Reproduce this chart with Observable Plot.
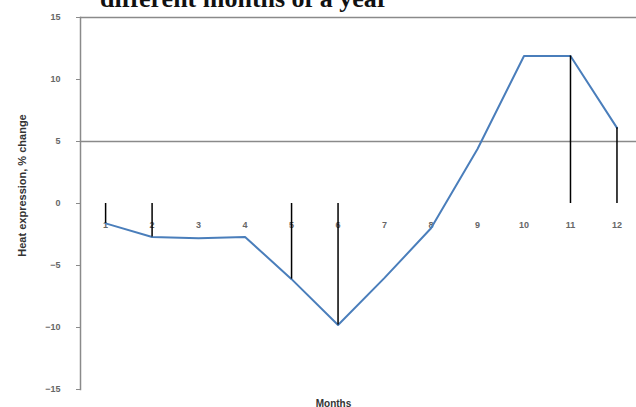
<!DOCTYPE html>
<html><head><meta charset="utf-8">
<script src="https://cdn.jsdelivr.net/npm/d3@7"></script>
<script src="https://cdn.jsdelivr.net/npm/@observablehq/plot@0.6"></script>
<style>
body{margin:0;background:#fff;overflow:hidden}
#wrap{position:relative;width:636px;height:407px;overflow:hidden}
#title{position:absolute;left:100px;top:-16px;font:bold 26px "Liberation Serif","Times New Roman",serif;white-space:nowrap;color:#111;z-index:2}
</style>
</head><body>
<div id="wrap"><div id="chart"></div><div id="title">different months of a year</div></div>
<script>
const months = [1,2,3,4,5,6,7,8,9,10,11,12];
const change = [-1.6,-2.7,-2.8,-2.7,-6.1,-9.8,-6.0,-2.0,4.4,11.9,11.9,6.1];
const dropMonths = [1,2,5,6,11,12];
const yTicks = [-15,-10,-5,0,5,10,15];
const gridValues = [5,15];
const yTitle = "Heat expression, % change";
const xTitle = "Months";

const data = months.map((m,i)=>({month:m, value:change[i]}));
const drops = data.filter(d=>dropMonths.includes(d.month));

const chart = Plot.plot({
  width:636, height:407,
  marginTop:17, marginBottom:18, marginLeft:80, marginRight:0,
  style:{fontFamily:"'Liberation Sans', Arial, sans-serif", background:"#fff"},
  x:{domain:[0.46,12.42], axis:null},
  y:{domain:[-15,15], axis:null},
  marks:[
    Plot.ruleY(gridValues, {stroke:"#8a8a8a", strokeWidth:1.5}),
    Plot.frame({anchor:"left", stroke:"#8a8a8a", strokeWidth:1.5}),
    Plot.axisY(yTicks, {tickSize:4, tickPadding:16, fontSize:9, fill:"#666", stroke:"#8a8a8a", label:null, fontWeight:"bold"}),
    Plot.text([yTitle], {frameAnchor:"left", textAnchor:"middle", dx:-58, dy:-18, rotate:-90, fontSize:11, fontWeight:"bold", fill:"#333"}),
    Plot.text(months, {x:d=>d, y:0, dy:22, text:d=>String(d), fontSize:9, fill:"#666", fontWeight:"bold"}),
    Plot.text([xTitle], {frameAnchor:"bottom", dx:-25, dy:17, fontSize:10, fontWeight:"bold", fill:"#333"}),
    Plot.line(data, {x:"month", y:"value", stroke:"#4a7ebb", strokeWidth:2}),
    Plot.ruleX(drops, {x:"month", y1:0, y2:"value", stroke:"#000", strokeWidth:1.5})
  ]
});
document.getElementById("chart").appendChild(chart);
</script>
</body></html>
